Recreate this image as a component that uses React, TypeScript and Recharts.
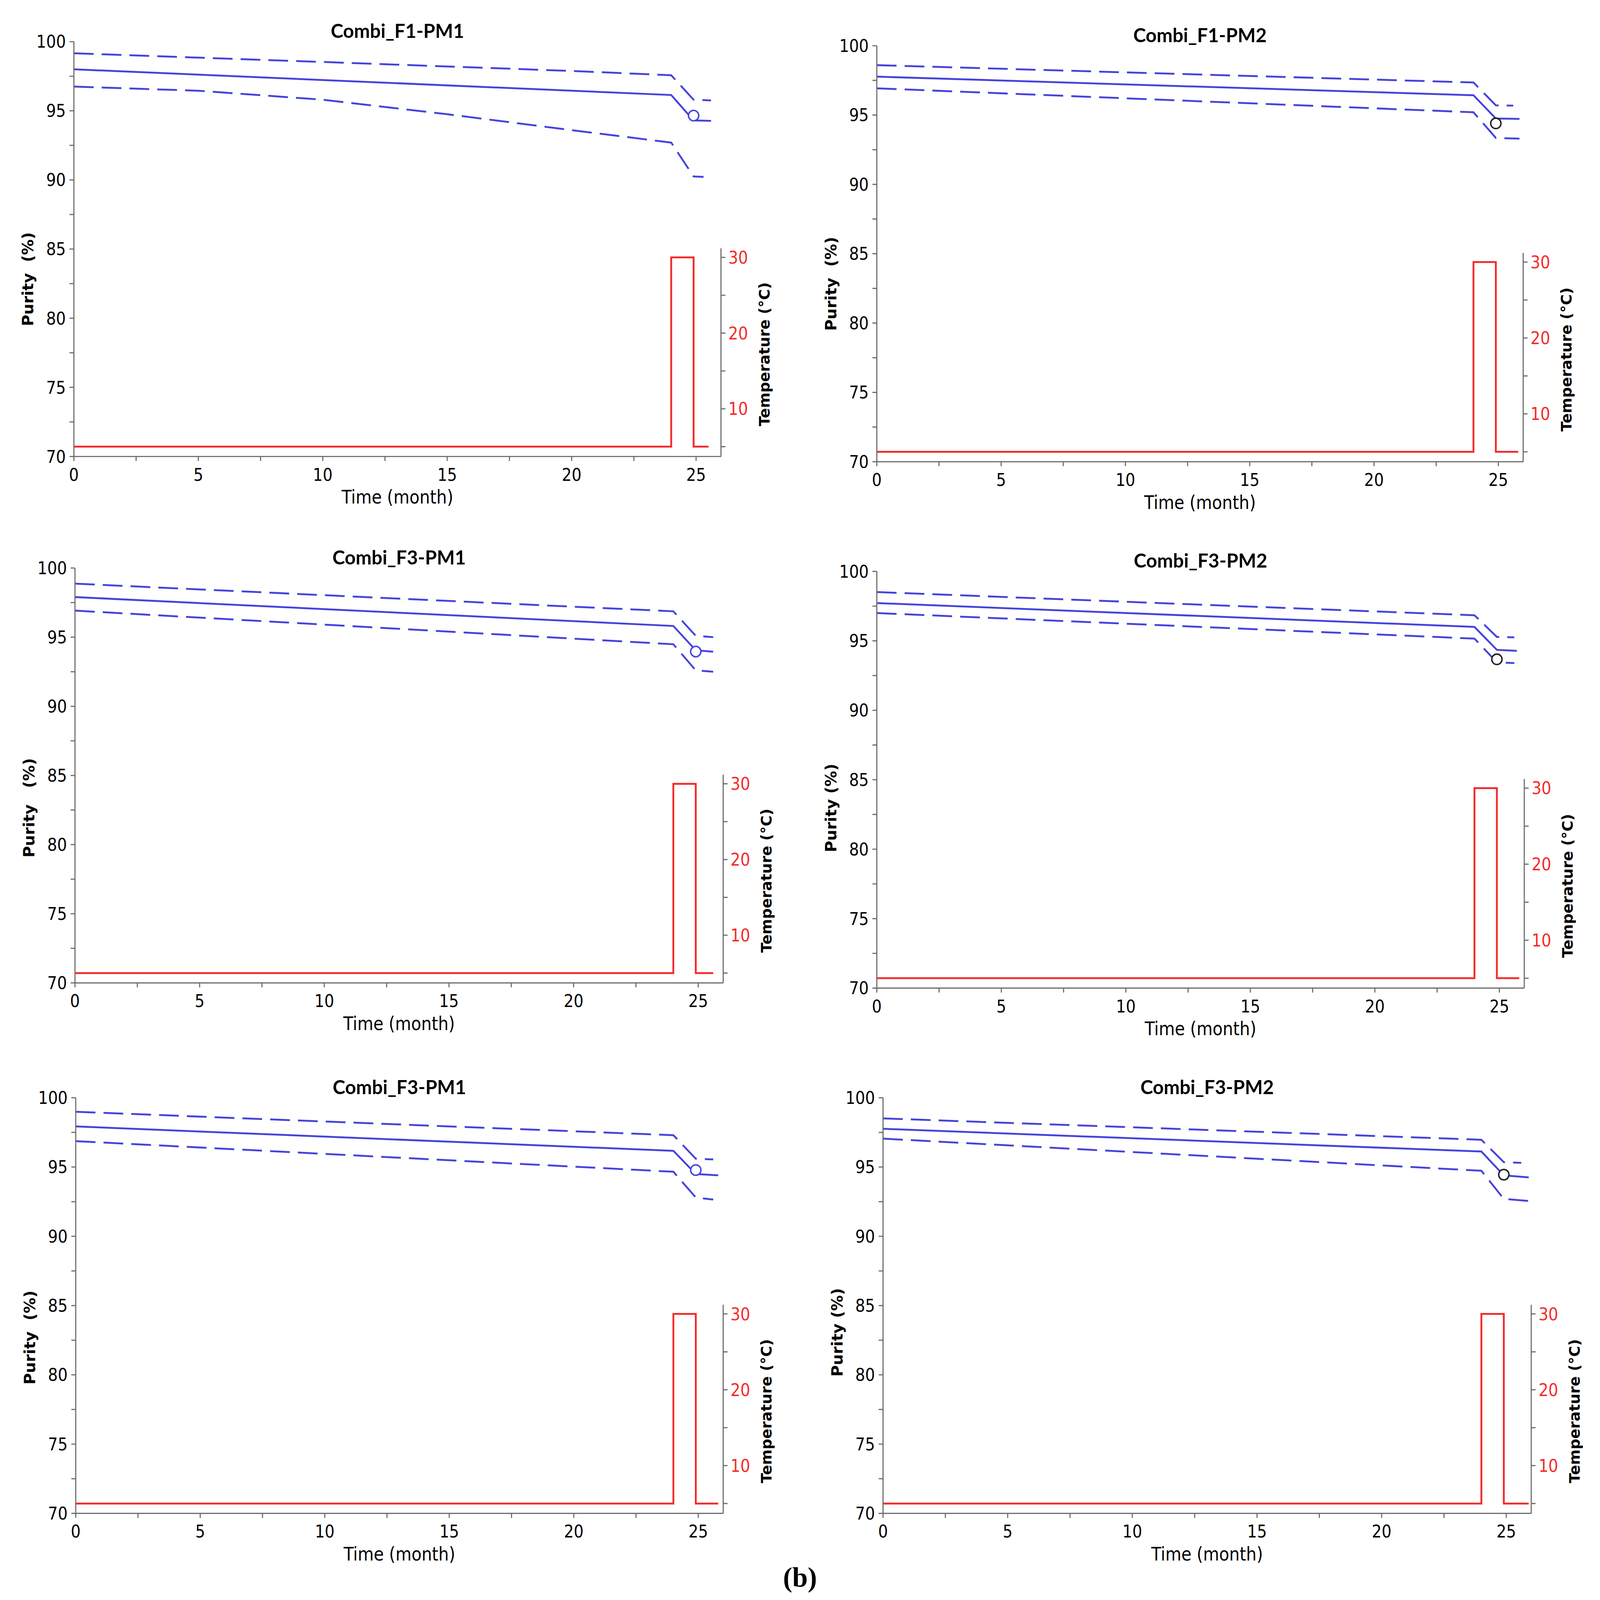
import React from "react";
import { ComposedChart, Line, XAxis, YAxis, ReferenceLine, Label } from "recharts";

type Pt = { t: number; v: number };

// ---- data ----
const panelTitles = [
  "Combi_F1-PM1",
  "Combi_F1-PM2",
  "Combi_F3-PM1",
  "Combi_F3-PM2",
  "Combi_F3-PM1",
  "Combi_F3-PM2",
];

const monthTicks = [0, 2.5, 5, 7.5, 10, 12.5, 15, 17.5, 20, 22.5, 25];
const purityTicks = [70, 72.5, 75, 77.5, 80, 82.5, 85, 87.5, 90, 92.5, 95, 97.5, 100];
const tempTicks = [5, 10, 15, 20, 25, 30];

// purity: upper limit, mean, lower limit, measured point
const f1pm1Upper: Pt[] = [{ t: 0, v: 99.16 }, { t: 10, v: 98.53 }, { t: 20, v: 97.88 }, { t: 24, v: 97.57 }, { t: 24.9, v: 95.8 }, { t: 25.6, v: 95.75 }];
const f1pm1Mean: Pt[] = [{ t: 0, v: 98.0 }, { t: 24, v: 96.14 }, { t: 24.9, v: 94.3 }, { t: 25.6, v: 94.27 }];
const f1pm1Lower: Pt[] = [{ t: 0, v: 96.75 }, { t: 5, v: 96.45 }, { t: 10, v: 95.8 }, { t: 15, v: 94.75 }, { t: 20, v: 93.6 }, { t: 24, v: 92.7 }, { t: 24.9, v: 90.25 }, { t: 25.3, v: 90.22 }];
const f1pm1Point: Pt[] = [{ t: 24.9, v: 94.65 }];

const f1pm2Upper: Pt[] = [{ t: 0, v: 98.6 }, { t: 24, v: 97.35 }, { t: 24.9, v: 95.7 }, { t: 25.6, v: 95.68 }];
const f1pm2Mean: Pt[] = [{ t: 0, v: 97.77 }, { t: 24, v: 96.43 }, { t: 24.9, v: 94.75 }, { t: 25.85, v: 94.72 }];
const f1pm2Lower: Pt[] = [{ t: 0, v: 96.93 }, { t: 24, v: 95.2 }, { t: 24.9, v: 93.35 }, { t: 25.85, v: 93.3 }];
const f1pm2Point: Pt[] = [{ t: 24.9, v: 94.4 }];

const f3pm1aUpper: Pt[] = [{ t: 0, v: 98.87 }, { t: 24, v: 96.87 }, { t: 24.9, v: 95.1 }, { t: 25.6, v: 95.0 }];
const f3pm1aMean: Pt[] = [{ t: 0, v: 97.9 }, { t: 24, v: 95.81 }, { t: 24.9, v: 94.05 }, { t: 25.6, v: 93.95 }];
const f3pm1aLower: Pt[] = [{ t: 0, v: 96.92 }, { t: 24, v: 94.49 }, { t: 24.9, v: 92.6 }, { t: 25.6, v: 92.5 }];
const f3pm1aPoint: Pt[] = [{ t: 24.9, v: 93.96 }];

const f3pm2aUpper: Pt[] = [{ t: 0, v: 98.51 }, { t: 24, v: 96.84 }, { t: 24.9, v: 95.28 }, { t: 25.6, v: 95.25 }];
const f3pm2aMean: Pt[] = [{ t: 0, v: 97.72 }, { t: 24, v: 96.0 }, { t: 24.9, v: 94.35 }, { t: 25.7, v: 94.28 }];
const f3pm2aLower: Pt[] = [{ t: 0, v: 97.0 }, { t: 24, v: 95.16 }, { t: 24.9, v: 93.45 }, { t: 25.6, v: 93.4 }];
const f3pm2aPoint: Pt[] = [{ t: 24.9, v: 93.67 }];

const f3pm1bUpper: Pt[] = [{ t: 0, v: 98.99 }, { t: 24, v: 97.3 }, { t: 24.9, v: 95.6 }, { t: 25.6, v: 95.55 }];
const f3pm1bMean: Pt[] = [{ t: 0, v: 97.93 }, { t: 24, v: 96.17 }, { t: 24.9, v: 94.5 }, { t: 25.8, v: 94.4 }];
const f3pm1bLower: Pt[] = [{ t: 0, v: 96.87 }, { t: 24, v: 94.66 }, { t: 24.9, v: 92.8 }, { t: 25.6, v: 92.65 }];
const f3pm1bPoint: Pt[] = [{ t: 24.9, v: 94.78 }];

const f3pm2bUpper: Pt[] = [{ t: 0, v: 98.51 }, { t: 24, v: 96.97 }, { t: 24.9, v: 95.35 }, { t: 25.6, v: 95.3 }];
const f3pm2bMean: Pt[] = [{ t: 0, v: 97.76 }, { t: 24, v: 96.12 }, { t: 24.9, v: 94.4 }, { t: 25.9, v: 94.25 }];
const f3pm2bLower: Pt[] = [{ t: 0, v: 97.05 }, { t: 24, v: 94.73 }, { t: 24.9, v: 92.7 }, { t: 25.9, v: 92.55 }];
const f3pm2bPoint: Pt[] = [{ t: 24.9, v: 94.45 }];

// storage temperature profile (°C): 5 °C, then a 30 °C excursion
const tempProfile1: Pt[] = [{ t: 0, v: 5 }, { t: 24, v: 5 }, { t: 24, v: 30 }, { t: 24.9, v: 30 }, { t: 24.9, v: 5 }, { t: 25.5, v: 5 }];
const tempProfile2: Pt[] = [{ t: 0, v: 5 }, { t: 24, v: 5 }, { t: 24, v: 30 }, { t: 24.9, v: 30 }, { t: 24.9, v: 5 }, { t: 25.8, v: 5 }];
const tempProfile3: Pt[] = [{ t: 0, v: 5 }, { t: 24, v: 5 }, { t: 24, v: 30 }, { t: 24.9, v: 30 }, { t: 24.9, v: 5 }, { t: 25.6, v: 5 }];
const tempProfile4: Pt[] = [{ t: 0, v: 5 }, { t: 24, v: 5 }, { t: 24, v: 30 }, { t: 24.9, v: 30 }, { t: 24.9, v: 5 }, { t: 25.8, v: 5 }];
const tempProfile5: Pt[] = [{ t: 0, v: 5 }, { t: 24, v: 5 }, { t: 24, v: 30 }, { t: 24.9, v: 30 }, { t: 24.9, v: 5 }, { t: 25.8, v: 5 }];
const tempProfile6: Pt[] = [{ t: 0, v: 5 }, { t: 24, v: 5 }, { t: 24, v: 30 }, { t: 24.9, v: 30 }, { t: 24.9, v: 5 }, { t: 25.9, v: 5 }];

// ---- styling ----
const BLUE = "#4444dc";
const RED = "#f42a2a";
const AXIS = "#6a6a6a";
const NARROW = "'DejaVu Sans Condensed', 'Liberation Sans Narrow', Arial, sans-serif";
const TITLE_FONT = "Lato, 'Open Sans', sans-serif";
const WIDE = "'DejaVu Sans', Verdana, sans-serif";
const LEFT_W = 200;
const RIGHT_W = 170;
const X_AXIS_H = 180;
const TOP_PAD = 30;

// the figure is laid out in the reference's 4374 x 4304 pixel frame and
// scaled down so it fits the 4096 px area that gets photographed
const FRAME_W = 4374;
const FRAME_H = 4304;
const SHOT = 4096;

type PanelProps = {
  title: string;
  upper: Pt[];
  mean: Pt[];
  lower: Pt[];
  point: Pt[];
  temp: Pt[];
  ring: string;
  purityText: string;
  purityDy: number;
  box: { l: number; r: number; t: number; b: number };
};

function Panel({ title, upper, mean, lower, point, temp, ring, purityText, purityDy, box }: PanelProps) {
  const plotW = box.r - box.l;
  const plotH = box.b - box.t;
  const width = plotW + LEFT_W + RIGHT_W;
  const height = plotH + TOP_PAD + X_AXIS_H;

  return (
    <>
      <div
        style={{
          position: "absolute",
          left: box.l + plotW / 2 - 600,
          top: box.t - 56,
          width: 1200,
          textAlign: "center",
          fontFamily: TITLE_FONT,
          fontWeight: 700,
          fontSize: 52,
          lineHeight: "52px",
          color: "#000",
        }}
      >
        {title}
      </div>
      <div style={{ position: "absolute", left: box.l - LEFT_W, top: box.t - TOP_PAD }}>
        <ComposedChart width={width} height={height} margin={{ top: TOP_PAD, right: 0, bottom: 0, left: 0 }}>
          <XAxis
            dataKey="t"
            type="number"
            domain={[0, 26]}
            allowDataOverflow
            ticks={monthTicks}
            interval={0}
            height={X_AXIS_H}
            tickSize={12}
            tickMargin={20}
            axisLine={{ stroke: AXIS, strokeWidth: 3 }}
            tickLine={{ stroke: AXIS, strokeWidth: 3 }}
            tick={{ fill: "#000", fontSize: 47, fontFamily: NARROW }}
            tickFormatter={(v: number) => (v % 5 === 0 ? String(v) : "")}
          >
            <Label
              value="Time (month)"
              position="center"
              dy={19}
              style={{ fill: "#000", fontSize: 50, fontFamily: NARROW }}
            />
          </XAxis>
          <YAxis
            yAxisId="left"
            type="number"
            domain={[70, 100]}
            allowDataOverflow
            ticks={purityTicks}
            interval={0}
            width={LEFT_W}
            tickSize={12}
            tickMargin={10}
            axisLine={{ stroke: AXIS, strokeWidth: 3 }}
            tickLine={{ stroke: AXIS, strokeWidth: 3 }}
            tick={{ fill: "#000", fontSize: 47, fontFamily: NARROW }}
            tickFormatter={(v: number) => (v % 5 === 0 ? String(v) : "")}
          >
            <Label
              value={purityText}
              angle={-90}
              position="center"
              dx={-26}
              dy={purityDy}
              style={{ fill: "#000", fontSize: 42, fontWeight: 700, fontFamily: WIDE }}
            />
          </YAxis>
          <YAxis
            yAxisId="temp"
            orientation="right"
            type="number"
            domain={[3.7, 58.5]}
            allowDataOverflow
            ticks={tempTicks}
            interval={0}
            width={RIGHT_W}
            tickSize={12}
            tickMargin={8}
            axisLine={false}
            tickLine={{ stroke: AXIS, strokeWidth: 3 }}
            tick={{ fill: RED, fontSize: 47, fontFamily: NARROW }}
            tickFormatter={(v: number) => (v % 10 === 0 ? String(v) : "")}
          >
            <Label
              value="Temperature (°C)"
              angle={-90}
              position="center"
              dx={33}
              dy={plotH / 2 - 275}
              style={{ fill: "#000", fontSize: 40, fontWeight: 700, fontFamily: WIDE }}
            />
          </YAxis>
          {/* short right-hand axis line for the temperature scale */}
          <ReferenceLine
            yAxisId="temp"
            segment={[{ x: 26, y: 3.7 }, { x: 26, y: 31.2 }]}
            stroke={AXIS}
            strokeWidth={3}
          />
          <Line yAxisId="temp" data={temp} dataKey="v" type="linear" stroke={RED} strokeWidth={5} dot={false} isAnimationActive={false} />
          <Line yAxisId="left" data={upper} dataKey="v" type="linear" stroke={BLUE} strokeWidth={5} strokeDasharray="54 22" dot={false} isAnimationActive={false} />
          <Line yAxisId="left" data={mean} dataKey="v" type="linear" stroke={BLUE} strokeWidth={5} dot={false} isAnimationActive={false} />
          <Line yAxisId="left" data={lower} dataKey="v" type="linear" stroke={BLUE} strokeWidth={5} strokeDasharray="54 22" dot={false} isAnimationActive={false} />
          <Line
            yAxisId="left"
            data={point}
            dataKey="v"
            stroke="none"
            dot={{ r: 14, stroke: ring, strokeWidth: 4, fill: "#fff" }}
            isAnimationActive={false}
          />
        </ComposedChart>
      </div>
    </>
  );
}

export default function App() {
  return (
    <div style={{ position: "absolute", left: 0, top: 0, width: SHOT, height: SHOT, overflow: "hidden", background: "#fff" }}>
      <div
        style={{
          position: "absolute",
          left: 0,
          top: 0,
          width: FRAME_W,
          height: FRAME_H,
          transform: `scale(${SHOT / FRAME_W}, ${SHOT / FRAME_H})`,
          transformOrigin: "0 0",
        }}
      >
        <Panel title={panelTitles[0]} upper={f1pm1Upper} mean={f1pm1Mean} lower={f1pm1Lower} point={f1pm1Point} temp={tempProfile1} ring={BLUE} purityText={"Purity\u00a0\u00a0(%)"} purityDy={81} box={{ l: 202, r: 1971, t: 112, b: 1228 }} />
        <Panel title={panelTitles[1]} upper={f1pm2Upper} mean={f1pm2Mean} lower={f1pm2Lower} point={f1pm2Point} temp={tempProfile2} ring="#222" purityText={"Purity\u00a0\u00a0(%)"} purityDy={81} box={{ l: 2397, r: 4164, t: 123, b: 1242 }} />
        <Panel title={panelTitles[2]} upper={f3pm1aUpper} mean={f3pm1aMean} lower={f3pm1aLower} point={f3pm1aPoint} temp={tempProfile3} ring={BLUE} purityText={"Purity\u00a0\u00a0\u00a0(%)"} purityDy={87} box={{ l: 205, r: 1977, t: 1528, b: 2644 }} />
        <Panel title={panelTitles[3]} upper={f3pm2aUpper} mean={f3pm2aMean} lower={f3pm2aLower} point={f3pm2aPoint} temp={tempProfile4} ring="#222" purityText="Purity (%)" purityDy={76} box={{ l: 2397, r: 4167, t: 1537, b: 2658 }} />
        <Panel title={panelTitles[4]} upper={f3pm1bUpper} mean={f3pm1bMean} lower={f3pm1bLower} point={f3pm1bPoint} temp={tempProfile5} ring={BLUE} purityText={"Purity\u00a0\u00a0(%)"} purityDy={86} box={{ l: 207, r: 1977, t: 2953, b: 4071 }} />
        <Panel title={panelTitles[5]} upper={f3pm2bUpper} mean={f3pm2bMean} lower={f3pm2bLower} point={f3pm2bPoint} temp={tempProfile6} ring="#222" purityText="Purity (%)" purityDy={72} box={{ l: 2414, r: 4186, t: 2953, b: 4071 }} />
        <div
          style={{
            position: "absolute",
            left: 0,
            width: FRAME_W,
            top: 4200,
            textAlign: "center",
            fontFamily: "'Liberation Serif', 'DejaVu Serif', serif",
            fontWeight: 700,
            fontSize: 76,
            lineHeight: "84px",
            color: "#000",
          }}
        >
          (b)
        </div>
      </div>
    </div>
  );
}
